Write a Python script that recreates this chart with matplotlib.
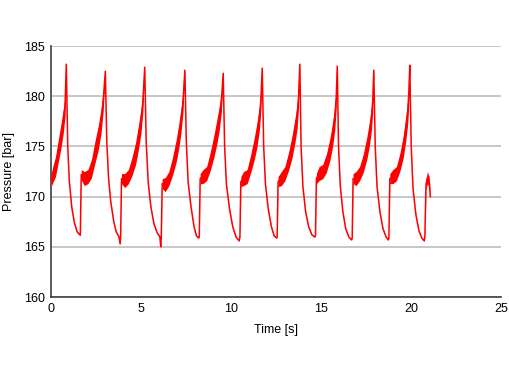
import matplotlib.pyplot as plt
import numpy as np

plt.rcParams['font.family'] = ['Liberation Sans', 'DejaVu Sans']

# pressure trace (key points of each pump cycle)
time_s = [
    0.00, 0.10, 0.25, 0.40, 0.55, 0.68, 0.78, 0.85, 0.93, 1.02, 1.15, 1.30, 1.45, 1.60,
    1.63, 1.68, 1.85, 2.05, 2.25, 2.45, 2.62, 2.78, 2.90, 3.02, 3.10, 3.20, 3.32, 3.48, 3.62, 3.78, 3.84,
    3.87, 3.92, 4.10, 4.30, 4.50, 4.70, 4.85, 5.00, 5.10, 5.21, 5.29, 5.40, 5.55, 5.72, 5.90, 6.05, 6.10,
    6.13, 6.18, 6.35, 6.55, 6.75, 6.95, 7.10, 7.22, 7.33, 7.44, 7.52, 7.62, 7.78, 7.95, 8.08, 8.20,
    8.24, 8.29, 8.45, 8.65, 8.85, 9.05, 9.20, 9.35, 9.47, 9.57, 9.65, 9.75, 9.92, 10.10, 10.28, 10.45,
    10.50, 10.55, 10.70, 10.90, 11.10, 11.30, 11.45, 11.58, 11.66, 11.74, 11.82, 11.92, 12.08, 12.25, 12.40, 12.53,
    12.57, 12.62, 12.80, 13.00, 13.20, 13.40, 13.55, 13.68, 13.76, 13.83, 13.90, 14.00, 14.15, 14.32, 14.50, 14.65,
    14.70, 14.75, 14.90, 15.10, 15.30, 15.50, 15.65, 15.77, 15.85, 15.91, 15.98, 16.08, 16.22, 16.38, 16.55, 16.70,
    16.74, 16.79, 16.95, 17.15, 17.35, 17.55, 17.70, 17.82, 17.88, 17.94, 18.02, 18.12, 18.28, 18.45, 18.62, 18.74,
    18.78, 18.83, 19.00, 19.20, 19.40, 19.58, 19.72, 19.83, 19.89, 19.94, 20.02, 20.12, 20.28, 20.45, 20.60, 20.74,
    20.78, 20.84, 20.92, 21.02, 21.08,
]
pressure_bar = [
    171.6, 172.2, 173.0, 174.5, 176.0, 177.5, 179.0, 183.2, 175.0, 171.5, 169.0, 167.4, 166.5, 166.2,
    166.2, 172.2, 171.8, 172.0, 172.8, 174.5, 175.8, 177.5, 179.5, 182.5, 175.5, 171.8, 169.5, 167.6, 166.5, 166.0, 165.3,
    166.0, 171.8, 171.6, 172.0, 173.0, 174.3, 175.8, 177.5, 179.3, 182.9, 175.5, 171.5, 169.0, 167.3, 166.4, 166.0, 165.0,
    166.0, 171.3, 171.2, 171.8, 173.0, 174.5, 176.0, 177.5, 179.3, 182.6, 175.5, 171.5, 169.0, 167.0, 166.1, 165.9,
    166.0, 171.8, 172.0, 172.3, 173.5, 175.0, 176.3, 177.8, 179.5, 182.3, 175.0, 171.2, 168.8, 167.0, 166.0, 165.6,
    166.0, 171.5, 171.8, 172.0, 173.3, 174.8, 176.2, 177.8, 179.5, 182.8, 175.0, 171.2, 168.7, 167.0, 166.1, 165.9,
    166.0, 171.5, 171.8, 172.3, 173.5, 175.0, 176.5, 178.0, 180.0, 183.2, 175.0, 171.0, 168.5, 167.0, 166.2, 166.0,
    166.1, 171.8, 172.3, 172.5, 173.3, 174.7, 176.2, 177.8, 179.8, 183.0, 175.0, 171.0, 168.5, 166.8, 166.0, 165.7,
    165.9, 171.8, 171.8, 172.3, 173.3, 174.8, 176.3, 178.0, 179.5, 182.6, 175.0, 171.0, 168.5, 166.8, 166.0, 165.7,
    165.9, 171.8, 172.0, 172.3, 173.5, 175.0, 176.8, 178.5, 180.5, 183.1, 175.0, 170.8, 168.2, 166.6, 165.9, 165.6,
    166.0, 171.2, 171.9, 171.5, 170.0,
]
# half-width of the noisy band around the trace
spread_bar = [
    0.6, 0.8, 1.0, 1.1, 1.2, 1.2, 1.0, 0.0, 0.05, 0.05, 0.05, 0.05, 0.05, 0.05,
    0.05, 0.5, 0.7, 0.7, 0.9, 1.1, 1.2, 1.2, 1.0, 0.0, 0.05, 0.05, 0.05, 0.05, 0.05, 0.05, 0.05,
    0.05, 0.5, 0.7, 0.7, 0.9, 1.1, 1.2, 1.2, 1.0, 0.0, 0.05, 0.05, 0.05, 0.05, 0.05, 0.05, 0.05,
    0.05, 0.5, 0.7, 0.7, 0.9, 1.1, 1.2, 1.2, 1.0, 0.0, 0.05, 0.05, 0.05, 0.05, 0.05, 0.05,
    0.05, 0.5, 0.7, 0.7, 0.9, 1.1, 1.2, 1.2, 1.0, 0.0, 0.05, 0.05, 0.05, 0.05, 0.05, 0.05,
    0.05, 0.5, 0.7, 0.7, 0.9, 1.1, 1.2, 1.2, 1.0, 0.0, 0.05, 0.05, 0.05, 0.05, 0.05, 0.05,
    0.05, 0.5, 0.7, 0.7, 0.9, 1.1, 1.2, 1.2, 1.0, 0.0, 0.05, 0.05, 0.05, 0.05, 0.05, 0.05,
    0.05, 0.5, 0.7, 0.7, 0.9, 1.1, 1.2, 1.2, 1.0, 0.0, 0.05, 0.05, 0.05, 0.05, 0.05, 0.05,
    0.05, 0.5, 0.7, 0.7, 0.9, 1.1, 1.2, 1.2, 1.0, 0.0, 0.05, 0.05, 0.05, 0.05, 0.05, 0.05,
    0.05, 0.5, 0.7, 0.7, 0.9, 1.1, 1.2, 1.2, 1.0, 0.0, 0.05, 0.05, 0.05, 0.05, 0.05, 0.05,
    0.05, 0.5, 0.6, 0.5, 0.05,
]

x_ticks = [0, 5, 10, 15, 20, 25]
y_ticks = [160, 165, 170, 175, 180, 185]

t = np.array(time_s)
p = np.array(pressure_bar)
w = np.array(spread_bar)

fig = plt.figure(figsize=(5.10, 3.69), dpi=100)
ax = fig.add_axes([0.1, 0.195, 0.882, 0.68])

ax.fill_between(t, p - w, p + w, color='#ff0000', lw=0, zorder=3)
ax.plot(t, p, color='#ff0000', lw=1.1, zorder=4)

ax.set_xlim(0, 25)
ax.set_ylim(160, 185)
ax.set_xticks(x_ticks)
ax.set_yticks(y_ticks)
ax.yaxis.grid(True, color='#bdbdbd', lw=1.2)
ax.set_axisbelow(True)
ax.tick_params(length=0, labelsize=9, pad=4.5)
for s in ['top', 'right']:
    ax.spines[s].set_visible(False)
for s in ['left', 'bottom']:
    ax.spines[s].set_color('#404040')
    ax.spines[s].set_linewidth(1.2)

ax.set_xlabel("Time [s]", fontsize=9, labelpad=6)
ax.set_ylabel("Pressure [bar]", fontsize=9, labelpad=6)

plt.savefig("out.png", dpi=100)
